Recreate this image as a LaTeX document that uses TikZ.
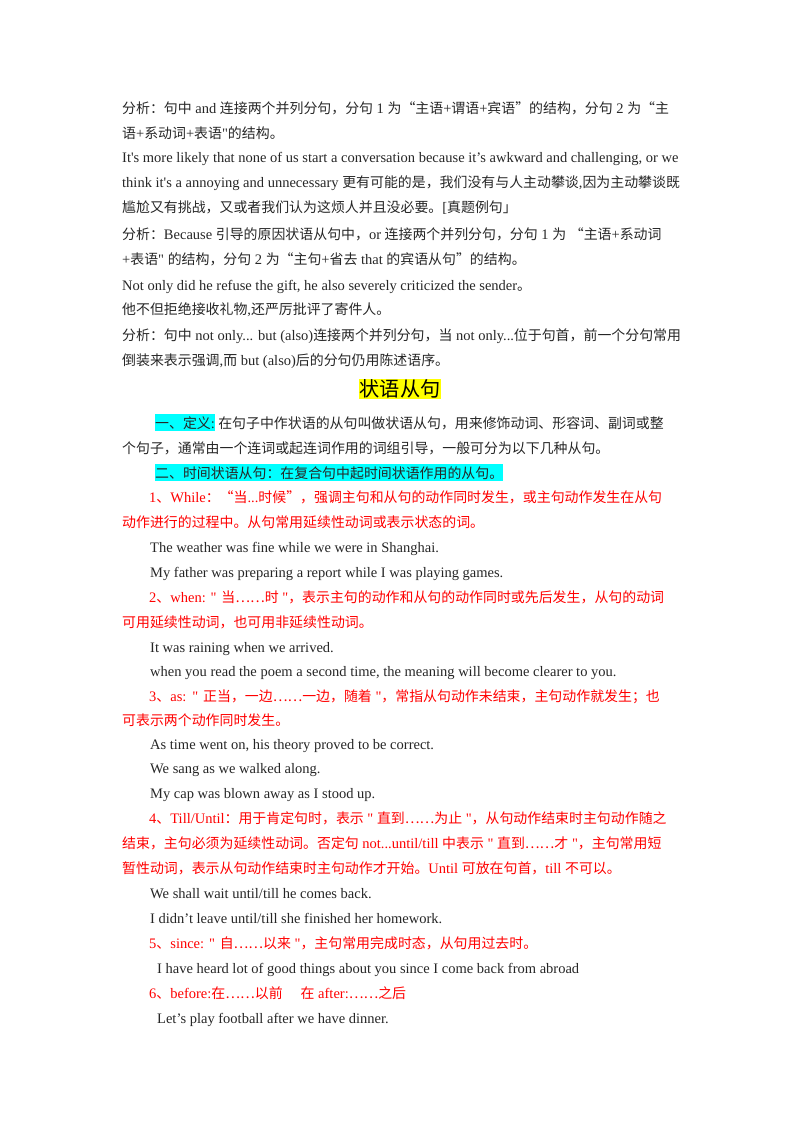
\documentclass[tikz,border=0pt]{standalone}
\usepackage{fontspec}
\setmainfont{Liberation Serif}
\newfontfamily\cjk{Noto Sans CJK SC}[Scale=0.96]
\newXeTeXintercharclass\cjkcls
\newcount\ccnt
\def\setrange#1#2{\ccnt=#1 \loop\XeTeXcharclass\ccnt=\cjkcls \ifnum\ccnt<#2 \advance\ccnt by 1 \repeat}
\setrange{"3000}{"303F}
\setrange{"4E00}{"9FFF}
\setrange{"FF00}{"FFEF}
\XeTeXcharclass"201C=\cjkcls
\XeTeXcharclass"201D=\cjkcls
\XeTeXcharclass"2026=\cjkcls
\XeTeXinterchartokenstate=1
\XeTeXinterchartoks 0 \cjkcls = {\cjk}
\XeTeXinterchartoks 4095 \cjkcls = {\cjk}
\XeTeXinterchartoks \cjkcls 0 = {\rmfamily}
\XeTeXinterchartoks \cjkcls 4095 = {\rmfamily}
\def\q{\textquotedbl}
\def\ap{\textquotesingle}
\definecolor{tred}{RGB}{255,0,0}
\definecolor{hcyan}{RGB}{0,255,255}
\definecolor{hyel}{RGB}{255,255,0}
\tikzset{ln/.style={anchor=base west,inner sep=0pt,font=\fontsize{14.5}{17}\selectfont,text=black!85},
 rd/.style={ln,text=tred},
 hl/.style={ln,fill=hcyan,inner ysep=2pt}}
\begin{document}
\begin{tikzpicture}[x=1pt,y=1pt]
\useasboundingbox (0,0) rectangle (800,-1132);
\node[ln] (l1) at (122,-113) {分析：句中 and 连接两个并列分句，分句 1 为“主语+谓语+宾语”的结构，分句 2 为“主};
\node[ln] (l2) at (122,-138) {语+系动词+表语\q{}的结构。};
\node[ln] (l3) at (122,-162) {It\ap{}s more likely that none of us start a conversation because it’s awkward and challenging, or we};
\node[ln] (l4) at (122,-187) {think it\ap{}s a annoying and unnecessary 更有可能的是，我们没有与人主动攀谈,因为主动攀谈既};
\node[ln] (l5) at (122,-212) {尴尬又有挑战，又或者我们认为这烦人并且没必要。[真题例句」};
\node[ln] (l6) at (122,-239) {分析：Because 引导的原因状语从句中，or 连接两个并列分句，分句 1 为 “主语+系动词};
\node[ln] (l7) at (122,-264) {+表语\q{} 的结构，分句 2 为“主句+省去 that 的宾语从句”的结构。};
\node[ln] (l8) at (122,-290) {Not only did he refuse the gift, he also severely criticized the sender。};
\node[ln] (l9) at (122,-314) {他不但拒绝接收礼物,还严厉批评了寄件人。};
\node[ln] (l10) at (122,-340) {分析：句中 not only... but (also)连接两个并列分句，当 not only...位于句首，前一个分句常用};
\node[ln] (l11) at (122,-365) {倒装来表示强调,而 but (also)后的分句仍用陈述语序。};
\node[anchor=center,inner sep=1pt,fill=hyel,font=\fontsize{21}{24}\selectfont\cjk] (title) at (400,-389) {状语从句};
\node[hl] (d1) at (155,-428) {一、定义:};
\node[ln,anchor=base west] (d1b) at ([xshift=3pt]d1.base east) {在句子中作状语的从句叫做状语从句，用来修饰动词、形容词、副词或整};
\node[ln] (d2) at (122,-453) {个句子，通常由一个连词或起连词作用的词组引导，一般可分为以下几种从句。};
\node[hl] (s2) at (155,-478) {二、时间状语从句：在复合句中起时间状语作用的从句。};
\node[rd] (r1) at (149,-502) {1、While：“当...时候”，强调主句和从句的动作同时发生，或主句动作发生在从句};
\node[rd] (r1b) at (122,-527) {动作进行的过程中。从句常用延续性动词或表示状态的词。};
\node[ln] (e1) at (150,-552) {The weather was fine while we were in Shanghai.};
\node[ln] (e2) at (150,-577) {My father was preparing a report while I was playing games.};
\node[rd] (r2) at (149,-602) {2、when: \q{} 当……时 \q{}，表示主句的动作和从句的动作同时或先后发生，从句的动词};
\node[rd] (r2b) at (122,-627) {可用延续性动词，也可用非延续性动词。};
\node[ln] (e3) at (150,-652) {It was raining when we arrived.};
\node[ln] (e4) at (150,-676) {when you read the poem a second time, the meaning will become clearer to you.};
\node[rd] (r3) at (149,-701) {3、as:\hspace{6pt}\q{} 正当，一边……一边，随着 \q{}，常指从句动作未结束，主句动作就发生；也};
\node[rd] (r3b) at (122,-725) {可表示两个动作同时发生。};
\node[ln] (e5) at (150,-749) {As time went on, his theory proved to be correct.};
\node[ln] (e6) at (150,-773) {We sang as we walked along.};
\node[ln] (e7) at (150,-798) {My cap was blown away as I stood up.};
\node[rd] (r4) at (149,-823) {4、Till/Until：用于肯定句时，表示 \q{} 直到……为止 \q{}，从句动作结束时主句动作随之};
\node[rd] (r4b) at (122,-848) {结束，主句必须为延续性动词。否定句 not...until/till 中表示 \q{} 直到……才 \q{}，主句常用短};
\node[rd] (r4c) at (122,-873) {暂性动词，表示从句动作结束时主句动作才开始。Until 可放在句首，till 不可以。};
\node[ln] (e8) at (150,-898) {We shall wait until/till he comes back.};
\node[ln] (e9) at (150,-923) {I didn’t leave until/till she finished her homework.};
\node[rd] (r5) at (149,-948) {5、since: \q{} 自……以来 \q{}，主句常用完成时态，从句用过去时。};
\node[ln] (e10) at (157,-973) {I have heard lot of good things about you since I come back from abroad};
\node[rd] (r6) at (149,-998) {6、before:在……以前\hspace{18pt}在 after:……之后};
\node[ln] (e11) at (157,-1023) {Let’s play football after we have dinner.};
\end{tikzpicture}
\end{document}
